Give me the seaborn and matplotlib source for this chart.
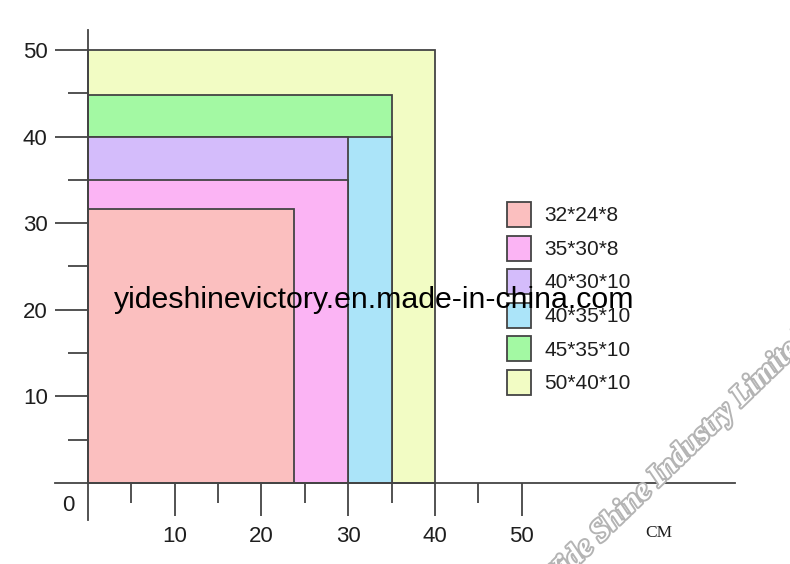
import matplotlib
matplotlib.use("Agg")
import matplotlib.pyplot as plt
import matplotlib.patheffects as pe
import seaborn as sns

# box sizes (label, width in cm, height in cm)
sizes = ["32*24*8", "35*30*8", "40*30*10", "40*35*10", "45*35*10", "50*40*10"]
widths = [23.8, 30, 30, 35, 35, 40]
heights = [31.6, 35, 40, 40, 44.8, 50]
palette = ["#FBBFBF", "#FBB4F4", "#D4BCFB", "#ABE4F9", "#A3F9A3", "#F2FCC4"]

major_ticks = [10, 20, 30, 40, 50]
minor_ticks = [5, 15, 25, 35, 45]

sns.set_theme(style="white")
plt.rcParams["font.family"] = ["Liberation Sans", "DejaVu Sans"]

line_c = "#444444"
txt_c = "#1e1e1e"
fig = plt.figure(figsize=(7.9, 5.64), dpi=100)
ax = fig.add_axes([0, 0, 1, 1])

# draw biggest first so the smaller boxes sit on top
handles = {}
for lab, w, h, c in sorted(zip(sizes, widths, heights, palette), key=lambda t: -t[1] * t[2]):
    b = ax.bar(0, h, width=w, align="edge", color=c, edgecolor=line_c, linewidth=1.3, zorder=2)
    handles[lab] = b[0]

ax.set_xlim(-10.14, 80.92)
ax.set_ylim(-9.35, 55.77)
ax.patch.set_alpha(0)

for s in ["top", "right"]:
    ax.spines[s].set_visible(False)
ax.spines["left"].set_position(("data", 0))
ax.spines["bottom"].set_position(("data", 0))
ax.spines["left"].set_bounds(-4.3, 52.3)
ax.spines["bottom"].set_bounds(-3.8, 74.6)
for s in ["left", "bottom"]:
    ax.spines[s].set_color(line_c)
    ax.spines[s].set_linewidth(1.3)
    ax.spines[s].set_zorder(3)

ax.set_xticks(major_ticks)
ax.set_xticks(minor_ticks, minor=True)
ax.set_yticks(major_ticks)
ax.set_yticks(minor_ticks, minor=True)
ax.tick_params(which="major", direction="out", length=24, width=1.3, color=line_c,
               labelsize=16, labelcolor=txt_c, pad=5, left=True, bottom=True)
ax.tick_params(axis="x", which="major", pad=7)
ax.tick_params(which="minor", direction="out", length=14.4, width=1.3, color=line_c,
               left=True, bottom=True)

ax.text(-2.3, -2.6, "0", fontsize=16, color=txt_c, ha="center", va="center")
fig.text(645 / 790, 1 - 533 / 564, "CM", family="Liberation Serif", fontsize=12.5,
         color=txt_c, ha="left", va="center")

leg = ax.legend([handles[l] for l in sizes], sizes, loc="upper left",
                bbox_to_anchor=(507 / 790, 1 - 202 / 564), bbox_transform=fig.transFigure,
                frameon=False, fontsize=15, handlelength=1.15, handleheight=1.47,
                handletextpad=0.65, labelspacing=0.41, borderpad=0, borderaxespad=0)
for t in leg.get_texts():
    t.set_color(txt_c)

# watermarks
fig.text(374 / 790, 1 - 300 / 564, "yideshinevictory.en.made-in-china.com",
         fontsize=21.8, color="black", ha="center", va="center", zorder=10)
fig.text(678 / 790, 1 - 458 / 564, "Yide Shine Industry Limited", family="Liberation Serif",
         fontsize=22, fontweight="bold", style="italic", color="white", rotation=44,
         ha="center", va="center", zorder=10,
         path_effects=[pe.withStroke(linewidth=2.8, foreground="#b4b4b4")])

fig.savefig("out.png", dpi=100)
